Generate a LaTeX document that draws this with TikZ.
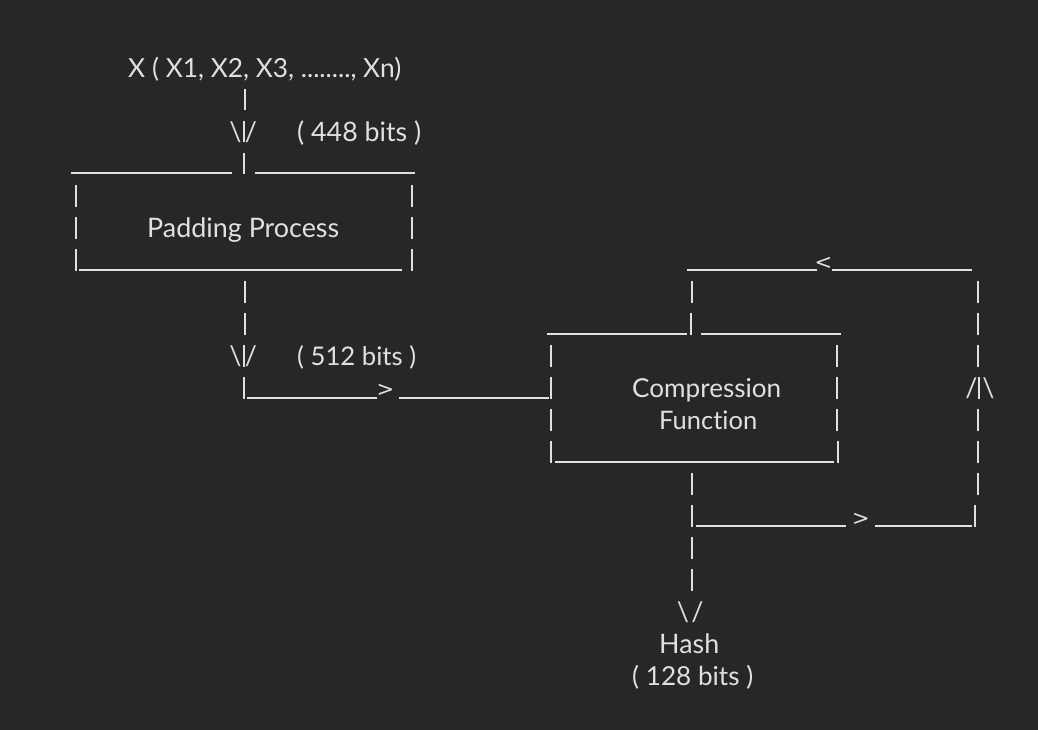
\documentclass[tikz,border=0pt]{standalone}
\usepackage{fontspec}
\setmainfont{Lato}[Ligatures=NoCommon]
\newfontfamily\tipfont{DejaVu Sans}
\usepackage{graphicx}
\definecolor{bg}{HTML}{272727}
\definecolor{ink}{HTML}{E0E0E0}
\newcommand\artpipe[2]{\draw[art] (#1,{89+32*(#2)}) -- (#1,{110.5+32*(#2)});}
\newcommand\artline[3]{\draw[art] (#1,{109.5+32*(#3)}) -- (#2,{109.5+32*(#3)});}
\begin{document}
\begin{tikzpicture}[x=1pt,y=-1pt,
  art/.style={draw=ink,line width=2pt},
  lbl/.style={text=ink,inner sep=0pt,anchor=base west},
  glyph/.style={text=ink,inner sep=0pt},
  tip/.style={text=ink,inner sep=0pt,anchor=base,font=\tipfont\fontsize{21}{21}\selectfont}]
\fill[bg] (0,0) rectangle (1038,730);
\useasboundingbox (0,0) rectangle (1038,730);
% ---------- labels ----------
\node[lbl] (xin) at (128,77.5) {\resizebox{273pt}{!}{X ( X1, X2, X3, ........, Xn)}};
\node[lbl] (b448) at (297,141.5) {\resizebox{124pt}{!}{( 448 bits )}};
\node[lbl] (pad) at (147,237.5) {\resizebox{192pt}{!}{Padding Process}};
\node[lbl] (b512) at (297,365.5) {\resizebox{119pt}{!}{( 512 bits )}};
\node[lbl] (comp) at (632,397.5) {\resizebox{149pt}{!}{Compression}};
\node[lbl] (func) at (659,429.5) {\resizebox{98pt}{!}{Function}};
\node[lbl] (hash) at (659,653.5) {\resizebox{60pt}{!}{Hash}};
\node[lbl] (b128) at (632,685.5) {\resizebox{121pt}{!}{( 128 bits )}};
% ---------- arrow glyphs ----------
\node[glyph] (a1l) at (235.5,131.75) {\resizebox*{!}{21pt}{\textbackslash}};
\node[glyph] (a1r) at (251,131.75) {\resizebox*{!}{21pt}{/}};
\node[glyph] (a8l) at (235.5,355.75) {\resizebox*{!}{21pt}{\textbackslash}};
\node[glyph] (a8r) at (251,355.75) {\resizebox*{!}{21pt}{/}};
\node[glyph] (up1) at (971.5,387.75) {\resizebox*{!}{21pt}{/}};
\node[glyph] (up2) at (988.5,387.75) {\resizebox*{!}{21pt}{\textbackslash}};
\node[glyph] (d1) at (683,611.75) {\resizebox*{!}{21pt}{\textbackslash}};
\node[glyph] (d2) at (697.5,611.75) {\resizebox*{!}{21pt}{/}};
\node[tip] (lt) at (823.5,269.3) {<};
\node[tip] (gt1) at (385.5,396.8) {>};
\node[tip] (gt2) at (861,525.3) {>};
% ---------- left column ----------
\artpipe{245}{0}
\artpipe{244}{1}
\artline{71}{232}{2}
\artpipe{244}{2}
\artline{255}{415}{2}
\artpipe{76}{3}\artpipe{412}{3}
\artpipe{76}{4}\artpipe{412}{4}
\artpipe{76}{5}\artline{79}{402}{5}\artpipe{412}{5}
\artpipe{245}{6}
\artpipe{245}{7}
\artpipe{244}{8}
\artpipe{244}{9}\artline{247}{377}{9}
\artline{399}{549}{9}
% ---------- compression box ----------
\artline{547}{687}{7}\artpipe{691}{7}\artline{701}{841}{7}
\artpipe{551}{8}\artpipe{837}{8}
\artpipe{551}{9}\artpipe{837}{9}
\artpipe{551}{10}\artpipe{837}{10}
\artpipe{551}{11}\artline{555}{834}{11}\artpipe{838}{11}
% ---------- feedback loop ----------
\artline{687}{817}{5}\artline{832}{972}{5}
\artpipe{692}{6}\artpipe{978}{6}
\artpipe{978}{7}
\artpipe{978}{8}
\artpipe{979}{9}
\artpipe{978}{10}
\artpipe{978}{11}
\artpipe{692}{12}\artpipe{978}{12}
\artpipe{692}{13}\artline{696}{846}{13}\artline{875}{972}{13}\artpipe{975}{13}
\artpipe{692}{14}
\artpipe{692}{15}
\end{tikzpicture}
\end{document}
